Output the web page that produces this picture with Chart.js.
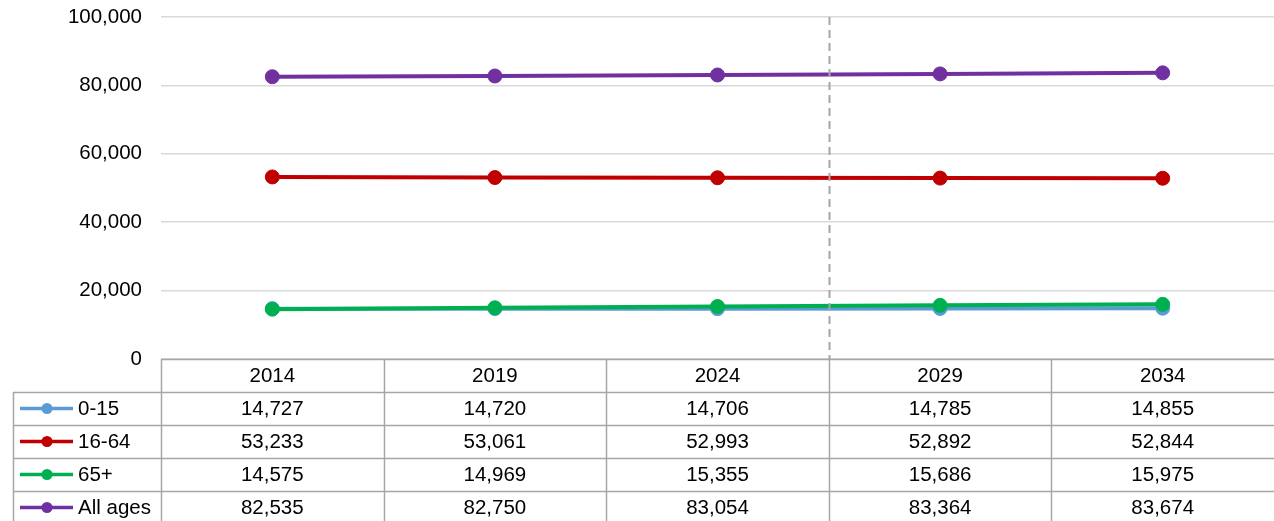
<!DOCTYPE html>
<html>
<head>
<meta charset="utf-8">
<script src="https://cdn.jsdelivr.net/npm/chart.js@4/dist/chart.umd.min.js"></script>
<style>
html,body{margin:0;padding:0;background:#fff;}
#wrap{width:1274px;height:521px;position:relative;}
</style>
</head>
<body>
<div id="wrap"><canvas id="c" width="1274" height="521"></canvas></div>
<script>
const years = ['2014', '2019', '2024', '2029', '2034'];
const ages0to15 = [14727, 14720, 14706, 14785, 14855];
const ages16to64 = [53233, 53061, 52993, 52892, 52844];
const ages65plus = [14575, 14969, 15355, 15686, 15975];
const allAges = [82535, 82750, 83054, 83364, 83674];
const seriesNames = ['0-15', '16-64', '65+', 'All ages'];
const seriesColors = ['#5B9BD5', '#C00000', '#00B050', '#7030A0'];
const yTicks = [0, 20000, 40000, 60000, 80000, 100000];
const projectionAfter = '2024';

const FONT = 'Liberation Sans, Arial, sans-serif';
const FSIZE = 20.5;
const fmt = v => v.toLocaleString('en-US');
const seriesValues = [ages0to15, ages16to64, ages65plus, allAges];

const tablePlugin = {
  id: 'dataTable',
  afterDatasetsDraw(chart) {
    const ctx = chart.ctx;
    const xs = chart.scales.x;
    const area = chart.chartArea;
    const i = years.indexOf(projectionAfter);
    const dx = Math.round((xs.getPixelForValue(i) + xs.getPixelForValue(i + 1)) / 2) + 0.5;
    ctx.save();
    ctx.strokeStyle = '#A6A6A6';
    ctx.lineWidth = 2;
    ctx.setLineDash([8, 5]);
    ctx.beginPath();
    ctx.moveTo(dx, area.top);
    ctx.lineTo(dx, area.bottom);
    ctx.stroke();
    ctx.restore();
  },
  afterDraw(chart) {
    const ctx = chart.ctx;
    const xs = chart.scales.x;
    const area = chart.chartArea;
    const top = area.bottom;
    const rowH = 33;
    const legLeft = 13;
    const right = chart.width;
    const colW = (area.right - area.left) / years.length;
    ctx.save();
    ctx.strokeStyle = '#A6A6A6';
    ctx.lineWidth = 1.5;
    ctx.beginPath();
    ctx.moveTo(area.left, top + 0.5); ctx.lineTo(right, top + 0.5);
    for (let r = 1; r <= seriesNames.length; r++) {
      const y = Math.round(top + r * rowH) + 0.5;
      ctx.moveTo(legLeft, y); ctx.lineTo(right, y);
    }
    for (let c = 0; c < years.length; c++) {
      const x = Math.round(area.left + c * colW) + 0.5;
      ctx.moveTo(x, top); ctx.lineTo(x, chart.height);
    }
    ctx.moveTo(legLeft + 0.5, top + rowH); ctx.lineTo(legLeft + 0.5, chart.height);
    ctx.stroke();

    ctx.fillStyle = '#000';
    ctx.font = FSIZE + 'px ' + FONT;
    ctx.textBaseline = 'middle';
    ctx.textAlign = 'center';
    years.forEach((yr, c) => {
      ctx.fillText(yr, xs.getPixelForValue(c), top + rowH / 2 + 1);
    });
    seriesNames.forEach((name, r) => {
      const yc = top + (r + 1) * rowH + rowH / 2 + 1;
      ctx.fillStyle = '#000';
      seriesValues[r].forEach((v, c) => {
        ctx.textAlign = 'center';
        ctx.fillText(fmt(v), xs.getPixelForValue(c), yc);
      });
      ctx.strokeStyle = seriesColors[r];
      ctx.lineWidth = 3.5;
      ctx.beginPath();
      ctx.moveTo(20, yc - 1); ctx.lineTo(73, yc - 1);
      ctx.stroke();
      ctx.fillStyle = seriesColors[r];
      ctx.beginPath();
      ctx.arc(47, yc - 1, 5.5, 0, Math.PI * 2);
      ctx.fill();
      ctx.fillStyle = '#000';
      ctx.textAlign = 'left';
      ctx.fillText(name, 78, yc);
    });
    ctx.restore();
  }
};

const datasets = seriesNames.map((n, k) => ({
  label: n,
  data: seriesValues[k],
  borderColor: seriesColors[k],
  backgroundColor: seriesColors[k],
  borderWidth: 4,
  pointRadius: 7,
  pointBorderWidth: 1,
  pointHoverRadius: 7,
  tension: 0,
  clip: false,
  order: [3, 2, 1, 0][k]
}));

new Chart(document.getElementById('c'), {
  type: 'line',
  data: { labels: years, datasets },
  options: {
    responsive: false,
    animation: false,
    events: [],
    layout: { autoPadding: false, padding: { top: 17, bottom: 162, left: 0, right: 0 } },
    plugins: { legend: { display: false }, tooltip: { enabled: false } },
    scales: {
      x: {
        offset: true,
        grid: { display: false },
        border: { display: false },
        ticks: { display: false },
        afterFit(s) { s.height = 0; s.paddingLeft = 0; s.paddingRight = 0; }
      },
      y: {
        min: 0, max: 100000,
        afterBuildTicks(s) { s.ticks = yTicks.map(v => ({ value: v })); },
        grid: { color: '#D9D9D9', lineWidth: 1.5, drawTicks: false },
        border: { display: false },
        ticks: {
          padding: 19,
          color: '#000',
          font: { family: FONT, size: FSIZE },
          callback: v => fmt(v)
        },
        afterFit(s) { s.width = 161; s.paddingTop = 0; s.paddingBottom = 0; }
      }
    }
  },
  plugins: [tablePlugin]
});
</script>
</body>
</html>
